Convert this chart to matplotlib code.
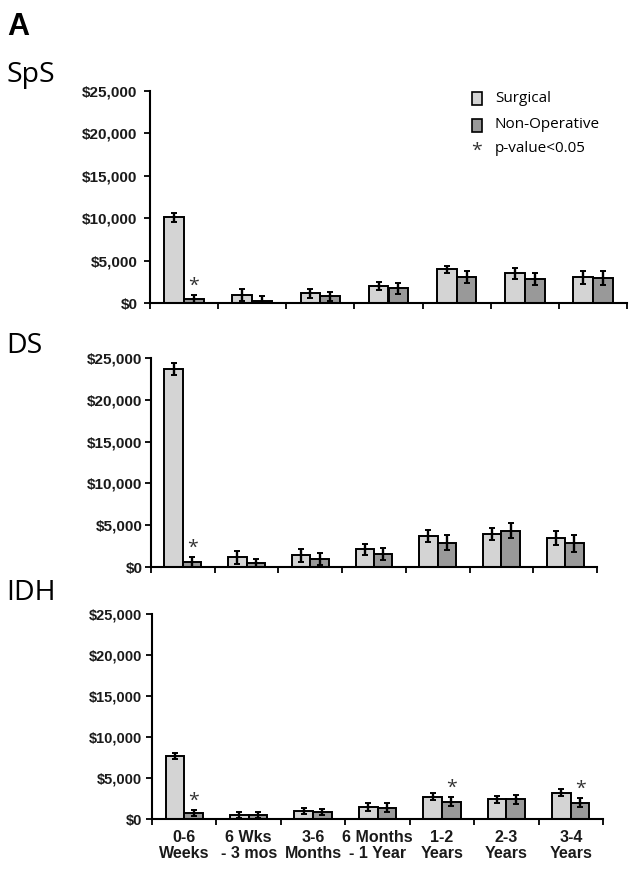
import numpy as np
import matplotlib
matplotlib.use('Agg')
import matplotlib.pyplot as plt
from matplotlib.patches import Rectangle

# categorias del eje x
periodos = ['0-6\nWeeks', '6 Wks\n- 3 mos', '3-6\nMonths', '6 Months\n- 1 Year',
            '1-2\nYears', '2-3\nYears', '3-4\nYears']

# SpS
sps_surg = [10100, 940, 1140, 2000, 3970, 3500, 3030]
sps_surg_err = [550, 700, 550, 470, 450, 630, 750]
sps_nonop = [440, 240, 800, 1730, 3100, 2800, 2950]
sps_nonop_err = [500, 600, 550, 630, 700, 700, 780]
sps_sig = [0]

# DS
ds_surg = [23700, 1150, 1380, 2100, 3700, 3900, 3500]
ds_surg_err = [740, 820, 800, 660, 700, 720, 840]
ds_nonop = [600, 450, 920, 1550, 2900, 4350, 2830]
ds_nonop_err = [560, 560, 700, 720, 900, 940, 1050]
ds_sig = [0]

# IDH
idh_surg = [7670, 530, 940, 1470, 2730, 2400, 3180]
idh_surg_err = [350, 370, 370, 450, 400, 450, 430]
idh_nonop = [730, 450, 850, 1400, 2120, 2400, 2000]
idh_nonop_err = [400, 350, 400, 570, 530, 570, 530]
idh_sig = [0, 4, 6]

color_surg = '#d4d4d4'
color_nonop = '#999999'
W, H = 638, 871

fig = plt.figure(figsize=(W/100, H/100), dpi=100)


def panel(rect, surg, surg_err, nonop, nonop_err, sig, ylab_size, ypad, xlabels):
    ax = fig.add_axes(rect)
    x = np.arange(len(surg)) + 0.5
    bw = 0.29
    ax.bar(x - bw/2, surg, bw, color=color_surg, edgecolor='k', linewidth=1.4, zorder=2)
    ax.bar(x + bw/2, nonop, bw, color=color_nonop, edgecolor='k', linewidth=1.4, zorder=2)
    ax.errorbar(x - bw/2, surg, yerr=surg_err, fmt='none', ecolor='k',
                elinewidth=1.7, capsize=2, capthick=1.4, zorder=3)
    ax.errorbar(x + bw/2, nonop, yerr=nonop_err, fmt='none', ecolor='k',
                elinewidth=1.7, capsize=2, capthick=1.4, zorder=3)
    for i in sig:
        ax.annotate('*', xy=(x[i] + bw/2, nonop[i] + nonop_err[i]), xytext=(0, 3),
                    textcoords='offset points', ha='center', va='baseline',
                    fontsize=14, family='Open Sans', color='#333333')
    ax.set_xlim(0, 7)
    ax.set_ylim(0, 25000)
    ax.set_yticks(np.arange(0, 25001, 5000))
    ax.set_yticklabels(['$0', '$5,000', '$10,000', '$15,000', '$20,000', '$25,000'],
                       fontsize=ylab_size, fontweight='bold', family='Liberation Sans',
                       color='#1a1a1a')
    ax.set_xticks(np.arange(0, 8))
    ax.set_xticklabels([])
    if xlabels:
        ax.set_xticks(x, minor=True)
        ax.set_xticklabels(periodos, minor=True, fontsize=11.5, fontweight='bold',
                           family='Liberation Sans', color='#1a1a1a', linespacing=1.1)
        ax.tick_params(axis='x', which='minor', length=0, pad=8)
    for s in ['top', 'right']:
        ax.spines[s].set_visible(False)
    for s in ['left', 'bottom']:
        ax.spines[s].set_linewidth(1.5)
    ax.tick_params(axis='both', which='major', direction='out', length=4, width=1.3)
    ax.tick_params(axis='y', pad=ypad)
    return ax


panel([150/W, 1 - 303/H, 477/W, 212/H], sps_surg, sps_surg_err, sps_nonop,
      sps_nonop_err, sps_sig, 11, 5, False)
panel([151/W, 1 - 567/H, 446/W, 209/H], ds_surg, ds_surg_err, ds_nonop,
      ds_nonop_err, ds_sig, 11, 2, False)
panel([152/W, 1 - 819/H, 451/W, 205/H], idh_surg, idh_surg_err, idh_nonop,
      idh_nonop_err, idh_sig, 10.5, 3, True)

# etiquetas de los paneles
fig.text(7/W, 1 - 35/H, 'A', fontsize=22, fontweight='bold', family='Liberation Sans',
         va='baseline')
fig.text(6/W, 1 - 82/H, 'SpS', fontsize=20.5, family='Open Sans', va='baseline')
fig.text(6/W, 1 - 353/H, 'DS', fontsize=20.5, family='Open Sans', va='baseline')
fig.text(6/W, 1 - 600/H, 'IDH', fontsize=20.5, family='Open Sans', va='baseline')

# leyenda
fig.patches.append(Rectangle((472/W, 1 - 105/H), 10/W, 13/H, facecolor=color_surg,
                             edgecolor='k', linewidth=1.2, transform=fig.transFigure))
fig.patches.append(Rectangle((472/W, 1 - 132/H), 10/W, 13/H, facecolor=color_nonop,
                             edgecolor='k', linewidth=1.2, transform=fig.transFigure))
fig.text(477/W, 1 - 156/H, '*', fontsize=14, family='Open Sans', ha='center',
         va='baseline', color='#333333')
fig.text(495/W, 1 - 98/H, 'Surgical', fontsize=11, family='Open Sans', va='center')
fig.text(495/W, 1 - 125/H, 'Non-Operative', fontsize=11, family='Open Sans', va='center')
fig.text(495/W, 1 - 149/H, 'p-value<0.05', fontsize=11, family='Open Sans', va='center')

fig.savefig('out.png', dpi=100)
